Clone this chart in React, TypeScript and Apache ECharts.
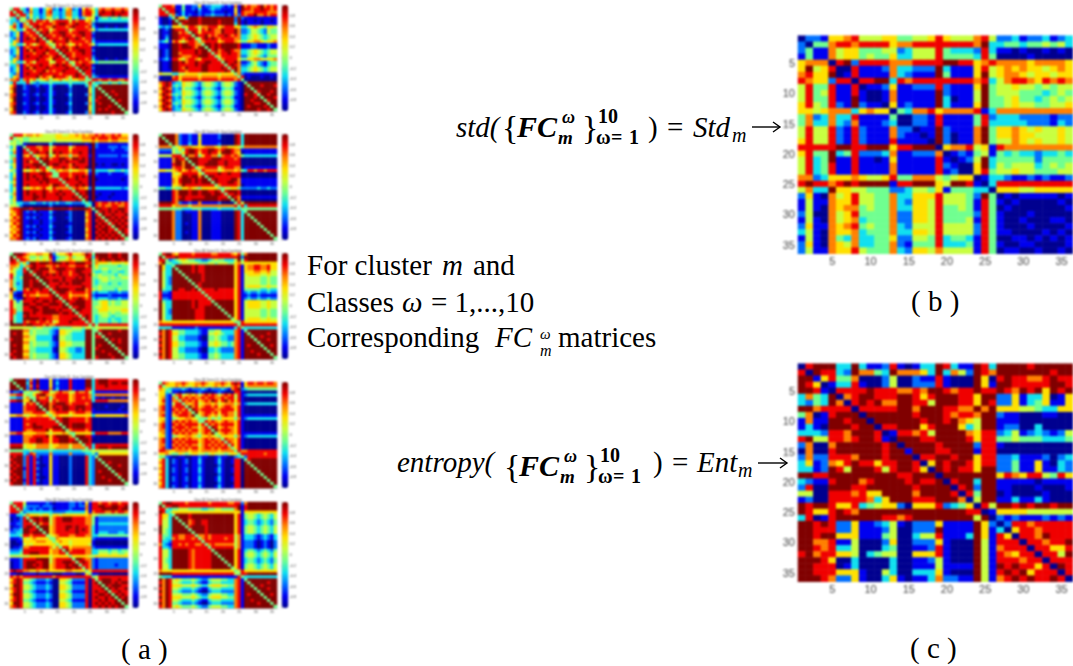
import React, { useEffect, useRef } from "react";
import * as echarts from "echarts";

// Matrix cells are jet-scale levels 0 (dark blue) .. 9 (dark red).
const stdRows = [
"0 2 21 6 67 8 5556 6 44 556 8 6555 7 8 5 2231223123",
"2 0 44 7 88 7 8888 6 77 888 8 8888 7 9 3 3443445453",
"2 4 11 7 56 6 4445 5 23 555 8 4333 2 8 3 1101001010",
"1 4 11 7 56 6 4544 6 33 555 8 4444 3 8 4 0000100000",
"6 7 77 0 89 2 8888 7 77 888 8 9988 6 7 8 7777677776",
"6 9 56 8 00 8 1112 7 33 222 9 3111 6 8 5 6767665676",
"7 8 66 9 01 8 1111 7 32 111 9 4111 6 9 5 6776566566",
"8 7 66 2 88 0 8899 3 87 888 8 8888 7 8 3 5788768787",
"5 8 44 8 11 8 0112 6 11 222 8 2111 6 9 4 5565545455",
"5 8 45 8 11 8 1001 7 11 111 9 2111 5 9 4 5554443454",
"5 8 44 8 11 9 1001 7 11 111 9 3011 5 9 4 4564434545",
"6 8 54 8 21 9 2110 6 12 111 9 3111 6 9 4 4565544556",
"6 6 56 7 77 3 6766 0 43 778 6 7777 8 1 3 7777777777",
"4 7 23 7 33 8 1111 4 00 221 8 1111 4 8 2 3332222122",
"4 7 33 7 32 7 1112 3 00 221 8 1111 4 8 3 3333222132",
"5 8 55 8 21 8 2111 7 22 011 9 2111 7 9 4 6676565565",
"5 8 55 8 21 8 2111 7 21 101 9 2011 7 9 4 6676655565",
"6 8 55 8 21 8 2111 8 11 110 9 2011 7 9 4 5576565565",
"8 8 88 8 99 8 8999 6 88 999 0 6778 5 6 1 8777777777",
"6 8 44 9 34 8 2223 7 11 222 7 0121 4 5 1 4343323343",
"5 8 34 9 11 8 1101 6 11 111 8 1012 5 9 3 4444424444",
"5 8 34 8 11 8 1111 7 11 111 8 2100 6 9 3 5455534545",
"5 8 34 8 11 8 1111 7 11 111 8 1200 6 8 4 5565544455",
"7 7 23 6 66 7 6556 8 44 777 5 4566 0 1 3 3211212112",
"8 9 88 7 89 8 9999 1 88 999 6 5998 1 0 3 8888888888",
"5 7 33 9 66 5 5444 2 23 554 6 1444 3 3 0 6665566666",
"2 6 10 7 56 8 5544 7 33 666 8 5554 2 9 4 0101111101",
"1 5 11 7 66 8 5544 7 32 665 8 5554 1 8 4 1010000010",
"1 5 10 7 67 7 4544 7 33 665 8 4454 1 8 4 0100000001",
"2 5 00 7 56 8 4444 7 22 665 8 4444 2 8 4 1000100000",
"1 5 10 7 56 7 3444 7 22 665 8 4445 1 8 4 1001000110",
"2 6 11 7 67 8 4544 7 32 555 8 5555 2 8 4 1000100001",
"3 5 10 7 66 7 3444 7 33 665 8 5555 2 8 4 1100001010",
"1 5 10 7 43 7 3344 6 22 554 8 3443 1 8 4 0011010101",
"2 6 10 7 65 7 3344 7 21 444 8 3334 1 8 4 1001100001",
"2 5 11 7 66 8 5444 7 32 665 7 5555 1 8 4 0110010010",
];
const entropyRows = [
"08999 339 3112 8 10 133 9 8311 983 9999899999",
"80988 329 7743 9 77 763 9 3752 987 9999999899",
"99168 447 0002 5 00 211 8 1000 960 8988778988",
"98601 338 1002 5 00 222 8 1000 961 9988888998",
"99810 888 8988 8 77 879 9 8788 988 9879896989",
"37439 078 9988 8 99 868 9 9988 699 2261336016",
"32439 708 9897 7 99 885 9 9988 698 2261346116",
"99788 880 8888 8 99 799 9 8877 979 6665543366",
"47018 999 0999 9 99 899 9 8788 799 2110001100",
"17119 989 9099 9 99 989 9 8976 599 1110000000",
"13109 998 9908 8 99 968 9 9963 599 1220030000",
"33328 879 9980 1 88 785 9 9997 688 2351232125",
"89558 878 9981 0 99 988 9 9998 688 4454443334",
"27007 999 9998 9 09 999 8 9999 288 1000000000",
"07008 999 9998 9 91 999 8 8999 188 0000000000",
"27228 887 9998 9 99 088 9 9899 688 2231112023",
"36127 689 8868 8 99 806 9 8998 688 2241161032",
"33129 859 9985 8 99 860 9 8988 699 2241161132",
"99889 999 9999 9 88 999 0 9999 999 6876885486",
"32118 999 7899 9 98 988 9 0899 399 1111101111",
"28009 998 8999 9 99 899 9 9089 299 1100010001",
"55008 887 8669 9 99 799 9 9808 499 0100001000",
"12008 888 8736 9 99 888 9 9970 599 1131131000",
"98998 668 3456 6 20 666 8 2346 085 9989899899",
"98668 987 9999 9 99 999 9 9998 801 6666555555",
"38018 999 9998 8 78 999 9 9999 590 2121112121",
"99898 226 1123 5 10 222 6 1111 962 0288788888",
"99888 226 1112 5 00 222 9 1111 961 3068878888",
"99899 666 1114 5 00 355 8 1113 961 8608879888",
"99778 115 0002 6 00 222 6 1000 951 8880887889",
"99878 335 0003 4 00 112 8 1000 951 7888088668",
"89788 665 0345 5 00 666 8 1000 951 8768808859",
"99986 003 0000 3 00 112 5 1000 951 8887880888",
"99888 013 0000 3 00 111 5 1111 951 9898868098",
"99888 666 1005 3 00 333 6 1000 951 8989688808",
"99987 226 1003 6 10 113 7 2211 951 7898988980",
];
const classSixRows = [
"488431 633136 723136 723168 753787 787787","848832 733137 833237 733178 863898 898898","884883 633237 733237 733178 853988 898988","438452 534235 534235 634235 651344 344344",
"332547 848878 578888 587886 742333 333333","373174 888788 878998 789888 720000 000000","683177 489887 798887 898887 831001 001001","463358 848788 578888 578888 752333 333333",
"236187 884989 788998 788998 820000 000000","236188 788498 878898 878898 810000 000000","327189 879849 888789 889878 820000 000000","367188 889884 698889 788887 831111 111111",
"463358 757887 458787 568788 752333 333333","337187 888988 748898 789888 810000 000000","236189 798889 884989 788998 820000 000000","236188 878897 888498 878898 810000 000000",
"327189 888988 789849 878888 820000 000000","367188 889887 698884 889887 831001 001001","463358 758888 558878 458788 753444 444444","337187 888988 789898 748898 810000 000000",
"236189 798889 888889 884989 820000 000000","236188 878897 878898 888498 810000 000000","327189 888988 888788 889848 820000 000000","367188 889787 698887 589884 832111 111111",
"778378 674567 466756 466774 488788 788778","383338 432333 433333 433334 843344 344344","680021 012011 310001 300003 734999 999999","790021 001001 300000 200000 639499 999999",
"690011 001001 310000 200000 639949 989999","780021 012011 310001 300002 739994 998999","790011 001001 300000 200000 639899 499999","690011 001001 310000 200000 638999 949899",
"780021 012011 310001 300002 739899 994999","790011 001001 300000 200000 639999 899499","690011 001001 310000 200000 639898 999949","780021 012011 310001 300002 739999 989994",
];
const classTwoRows = [
"488871 141122 612233 321217 197877 897878","848881 141121 311232 211116 198878 898878","884880 131110 211121 110116 187778 888777","888472 131211 212232 221217 287889 778788",
"100249 663999 899999 999992 921111 111111","100194 998999 899999 899992 910110 101101","100199 489999 899999 899993 910111 101111","323266 646887 577888 678886 633567 654665",
"012098 884888 587987 798889 722355 432544","011099 787498 688887 798889 722355 432544","012099 888849 889787 889878 733456 543455","013099 878984 589898 788887 733456 543455",
"234178 657887 478888 678887 644667 765667","111099 899887 749989 899999 811122 111211","111099 899987 994989 899999 811122 111211","012099 888889 899489 789987 733456 543455",
"012099 788889 899848 788988 733456 543455","012099 877788 999884 688888 722455 432444","123188 657887 688888 478888 644667 765667","011099 897889 889988 849889 711245 321344",
"011099 888889 899888 884898 722345 321344","011099 879888 899888 898489 733456 543455","011199 887888 899888 889849 733456 543455","655533 556666 566666 566664 721111 111111",
"100078 677777 677777 677777 480100 010010","000088 688888 788888 788887 840000 000000","789823 365543 245543 245542 104999 999999","689834 365543 245543 245542 109499 989998",
"798723 254432 134432 134431 109949 999999","689823 365543 245543 245542 109994 899989","798734 365543 245543 245542 108998 499899","689823 254432 134432 134431 109998 949998",
"798723 365543 245543 245542 109989 994899","689834 365543 245543 245542 109998 899499","798723 254432 134432 134431 109899 998949","689823 365543 245543 245542 109999 899894",
];
const classSevenRows = [
"488867 767655 556655 667676 778787 787866","845544 555555 556666 666677 787888 788777","454544 555555 545555 555566 676777 677666","554410 000000 300000 100001 092111 111111",
"351048 887788 578888 578888 192111 222122","461084 888788 588888 688888 091111 121112","371088 489889 598988 788988 091111 111111","441076 846778 468777 477888 191222 222122",
"471088 884989 788998 799898 091111 111111","371089 788499 888989 888998 091111 111111","461088 899949 899888 798888 090101 100101","361089 889884 688898 789889 091111 111111",
"541065 675786 447677 566776 293333 443343","351089 888998 844888 788887 192111 211112","361089 898898 744888 789898 091111 111111","371089 889899 888489 889888 090111 111101",
"461088 888989 888848 888988 091111 111111","371089 888888 799884 889898 091111 111111","351065 676786 587777 478776 293333 333323","361089 888898 788988 849889 091111 111111",
"471089 898898 889898 884989 091011 101111","361088 899898 888988 898498 090111 011111","461088 898888 888988 889849 091111 111111","453322 332232 323223 322234 308788 787878",
"554200 000000 200000 100003 408787 788778","788999 899999 899999 899999 849988 988998","678912 120111 310001 200007 804898 989898","768911 011011 200000 200006 808498 898889",
"687912 120111 310001 200007 809849 989898","778911 011011 210000 200006 808984 898989","687911 011011 200000 100007 809898 489898","768912 120111 310001 200007 808989 849989",
"677911 011011 200000 200006 809899 884898","768912 120111 310001 200007 808989 898498","687911 011011 200000 100006 809898 989849","778912 120111 310001 200007 808989 898984",
];
const classFourRows = [
"499997 211211 611111 200009 839999 999999","949997 211211 511111 200009 839999 999999","994997 211211 611111 100009 839999 999999","999497 211311 611111 200009 839999 999999",
"777745 677766 667776 577666 547777 777777","222254 648998 788998 789987 711111 111111","111154 468998 688988 699987 601111 111111","555588 849778 468877 478878 743333 333333",
"111179 884999 888899 988887 800000 000000","111179 979499 888999 889888 800000 000000","111189 979949 889999 889888 800000 000000","111178 879984 678888 578887 701111 111111",
"665567 867877 487777 567776 743887 887888","111165 688888 648888 988988 800000 000000","111166 799899 794998 888888 800000 000000","111176 899989 899489 888899 711111 111111",
"111176 899989 899949 888998 711111 111111","111166 798888 888884 788888 701111 111111","443354 466765 466666 445566 422222 322322","000087 999899 899889 848999 800000 000000",
"000087 999899 899989 984889 800000 000000","000087 898888 889999 888498 711111 111111","000087 998899 999999 899949 700000 000000","999987 211211 711111 200004 859999 999999",
"888867 777677 777777 777778 483888 888888","444444 433344 433333 433334 344444 444444","999972 201111 700011 100009 834999 999999","999972 200011 700011 100009 839499 999999",
"999972 200011 700011 100009 839949 999999","999972 200011 700011 100009 839994 999999","999972 201011 700011 100009 839999 499999","999972 200011 700011 100009 839999 949999",
"999972 200011 700011 100009 839999 994999","999972 201011 700011 100009 839999 999499","999972 200011 700011 100009 839999 999949","999972 200011 700011 100009 839999 999994",
];
const classOneRows = [
"499987 667766 925667 866679 849999 899899","948876 445455 813445 745558 838999 899899","984887 556565 714556 765567 947989 989989","887463 998999 899989 889998 847666 566656",
"776347 898887 787888 778887 946444 444344","754384 998999 789998 889998 845455 444544","653389 489988 778988 789988 843344 344334","853399 849989 898988 788998 954544 443544",
"843499 994998 888898 889898 844555 454455","743399 898499 899898 899998 843455 444444","742399 899949 888989 899988 843444 344344","743399 899994 889888 888898 844544 444444",
"963387 988988 489999 889997 854544 443544","721188 887888 948998 788887 832333 222322","610078 776777 894888 677776 821111 211111","621198 889888 899488 788987 832333 222322",
"852488 898899 898849 889998 844566 454455","854499 889988 999894 899998 844566 454455","854488 998899 888899 488998 845566 555555","874488 899899 998988 849988 844666 555566",
"873399 898899 999899 894888 844555 454455","843389 888888 877888 888489 843455 434444","843399 999898 877888 899849 843444 343344","943387 887887 856888 988884 843444 344344",
"999989 988878 778888 888888 484888 888888","555555 545544 433444 455545 545555 555555","999977 454444 321665 544439 944899 999899","989966 454444 321665 433339 949499 899999",
"999977 553333 310554 433339 948849 999999","899966 553333 310554 433339 949994 989899","999977 454444 321665 544449 949999 499899","989966 454444 321665 544449 949899 949999",
"999966 443333 310554 332239 948999 994899","989977 443333 310554 332239 949989 999499","899966 454444 321665 433339 949999 899949","989977 454444 321665 433339 948999 989994",
];
const classEightRows = [
"489976 888878 888877 888876 847999 999999","948889 888888 888888 888888 929999 999999","884234 565443 322345 443335 948999 999999","794433 455555 444554 555446 756666 666666",
"963349 999989 889999 999996 816778 877866","963394 999989 889999 999996 816778 877866","953399 499989 889999 999996 816667 766755","953399 949999 989999 999996 815666 655655",
"953299 994999 989999 999996 815555 544544","953299 999499 989999 999996 815555 544544","953299 999949 899999 999996 815555 544544","953399 999994 899999 999996 815666 655655",
"943399 889989 488889 888886 814444 433433","822188 888888 848888 888886 812322 322322","811188 888888 884888 888886 811211 211111","822188 888888 888488 888886 812322 322322",
"943399 999989 888849 999996 815666 655655","953399 999989 888894 999996 815666 655655","953399 999989 889999 499996 815666 655655","953299 999998 889999 949996 815555 544544",
"953299 999998 889999 994996 815555 544544","953399 999998 889999 999496 815555 544544","953399 999998 889999 999946 815666 655655","766666 666666 666666 666664 486666 666666",
"888888 888888 888888 888888 488888 888888","333311 111112 111111 111113 843333 333333","979855 443333 211445 533337 814999 999999","879866 443333 211556 543337 819499 999899",
"979855 332222 100445 433227 819949 989999","879855 332222 100445 433227 819994 999899","979866 443333 211556 544347 819999 499999","879866 443333 211556 544347 819899 949989",
"979855 332222 100334 322227 819999 994999","879855 332222 100334 322227 819989 999499","979855 443333 211445 433337 819999 899949","879855 443333 211445 433337 819999 999994",
];
const classTenRows = [
"499992 719111 612111 811119 938999 888888","949993 819111 613111 811119 938999 899899","994992 718111 612111 811119 938889 888888","999492 819111 713111 811118 838888 888888",
"122145 455788 557877 558778 531111 111111","778854 468997 678888 678888 737777 777777","332257 448778 478888 678878 731010 010010","889966 949888 587888 678888 838888 777777",
"111158 784989 789998 788887 800000 000000","111178 889499 798899 889998 800001 000010","111178 889949 789899 889898 810000 000100","111177 788884 678888 678887 711111 111111",
"667755 667766 467666 566666 636666 666667","111187 888888 748899 888887 800000 000000","111188 888888 884899 888887 800000 000000","111187 898888 888499 899998 800000 000000",
"111188 899988 899949 899998 800000 000000","111187 788889 688894 788887 800000 000000","778866 667776 566676 446666 638888 777788","111177 788889 689999 749998 810000 000000",
"111177 889988 688999 884999 800000 000000","111177 889988 688999 899499 800000 000000","888856 657777 566777 577748 838888 888888","999956 667777 567777 577774 838999 899999",
"444433 433333 433333 333344 455555 555555","888832 872222 722222 722223 342666 666666","989928 182011 611000 200008 324999 999999","899928 181011 611000 200008 329499 999999",
"989928 182011 611000 200008 329949 899999","898928 181001 611000 200008 329994 999899","989918 182011 611000 200008 329999 499999","899928 181011 611000 200008 329899 949999",
"989928 182011 611000 200008 329999 994899","898928 181001 611000 200008 329989 999499","989918 182011 611000 200008 329999 899949","899928 181011 611000 200008 329999 999994",
];
const classNineRows = [
"487667 787667 787667 787689 816887 887887","846667 676567 676567 676578 716777 777777","764322 232122 232122 232178 923444 444444","663411 010001 210001 210008 810000 000000",
"662147 856767 578787 578785 812333 333333","672174 878787 787887 787885 810000 000000","682177 487878 678798 689786 810000 000000","672158 847678 567767 567775 712333 333333",
"782178 884978 678878 678876 810000 000000","782187 878498 788887 788886 810000 000000","772178 788749 678878 688775 810000 000000","782167 888794 578767 578775 811111 111111",
"662145 667765 444645 466664 712333 333333","672178 787877 448787 678776 810000 000000","782187 878888 684878 788886 810000 000000","782178 887877 578498 678776 810000 000000",
"772187 878788 678849 788876 810000 000000","672178 787877 578794 678776 811111 111111","662145 667765 466765 466664 712333 333333","782178 787877 678787 748776 810000 000000",
"782187 878888 678878 784876 810000 000000","772178 787877 578787 878486 810000 000000","782187 878788 678878 788746 810000 000000","887667 777677 677777 677774 877888 888888",
"667544 654566 554565 554566 488888 887888","442100 110011 211001 211002 342888 888888","683021 012011 310001 310018 804899 999999","783021 012011 310001 310018 809499 999999",
"683011 011011 210000 210008 809949 999999","783021 012011 310001 310018 809994 999999","683021 012011 310001 310018 809999 499999","783011 011011 210000 210008 809999 949999",
"683021 012011 310001 310018 809999 994999","783021 012011 310001 310018 809999 999499","683011 011011 210000 210008 809999 999949","783021 012011 310001 310018 809999 999994",
];
const classThreeRows = [
"488851 111112 101111 221216 188788 788788","848842 222122 211111 221227 188998 899889","884832 121211 201111 211117 188899 999899","888423 333333 322223 333336 178887 787887",
"113347 666566 466566 666666 755444 444444","010284 899899 578899 988887 741222 222222","011289 489899 578899 988887 741222 222222","112288 849788 578888 888887 741333 333333",
"011289 984999 678889 989888 731222 222222","122399 889499 678889 889898 731222 222222","223399 899949 678888 889888 731333 222332","333488 788884 567888 778887 733444 444444",
"111265 676666 447666 666666 621111 111111","001166 667776 646766 566666 610000 000000","000156 566666 664666 566666 510000 000000","011277 888888 757488 677777 721111 111111",
"222388 888888 677849 788887 733444 344344","333488 999888 677884 888887 733555 455445","555555 666666 566666 466666 556666 666666","111288 889999 578888 849987 721222 222222",
"011289 998899 578899 984898 721222 222222","011289 989899 678889 899488 721222 221222","011289 998899 678889 989848 721222 222222","898877 667667 666667 766664 688888 888888",
"110011 110111 100011 110016 411000 000000","878788 888888 878888 888888 845888 888888","689855 432223 200665 422228 084899 988988","789844 321112 100554 311118 089499 989899",
"699855 432223 200665 422228 088949 899988","789855 432223 200665 422228 088894 989889","689844 321112 100554 311118 089889 488988","799855 432223 200665 422228 088998 949898",
"689855 432223 200665 422228 089889 894989","789844 321112 100554 311118 088989 889499","699855 432223 200665 422228 089898 989949","789855 432223 200665 422228 088989 898994",
];
const classFiveRows = [
"489988 887888 888788 888778 827999 999999","948899 888888 888888 888888 918999 999999","884344 555444 433445 544447 918999 999999","983466 666666 666666 666666 616666 666666",
"866349 999899 999999 999996 814554 345435","865394 999899 999999 999996 814554 345435","855399 499789 988999 999996 813443 234324","855399 949789 988999 999996 813443 234324",
"955399 994899 998999 999996 814554 345435","954399 999499 998999 999996 814554 345435","954399 999949 998999 999996 814554 345435","844388 778884 778788 888885 713332 123213",
"843378 778878 478788 887885 713332 123213","833288 888888 848888 888885 712221 012102","732188 787887 784787 777775 712221 012102","833288 888888 888488 888885 712221 012102",
"855399 999878 888849 999996 813443 234324","855399 999878 888894 999996 814554 345435","855399 999878 888899 499996 814554 345435","854399 999878 888899 949996 813443 234324",
"854399 999878 888899 994996 813443 234324","855399 999878 888899 999496 814554 345435","855399 999878 888899 999946 814554 345435","766666 666666 666666 666664 586666 666666",
"999988 888888 888888 888885 488999 999999","433311 111111 111111 111111 843333 333333","979856 544454 322455 544337 814999 999999","879855 433343 211344 433337 819499 999899",
"979866 655565 433566 655447 819949 989999","879855 433343 211344 433337 819994 999899","979844 322232 100233 322227 819999 499999","879855 544454 322455 544337 819899 949989",
"979866 655565 433566 655447 819999 994999","879855 433343 211344 433337 819989 999499","979844 322232 100233 322227 819999 899949","879856 544454 322455 544337 819999 999994",
];

const cellLabels = Array.from({ length: 36 }, (_, i) => String(i + 1));
const jetLevels = ["#00008f", "#0000f0", "#0070ff", "#10e0f0", "#70ff90", "#c8ff40", "#ffe000", "#ff8000", "#f00000", "#800000"];
const colorbarTicks = [0.8, 0.6, 0.4, 0.2, 0, -0.2, -0.4, -0.6, -0.8];

const smallPanels = [
  { title: "Class [6] Cluster [1] : Scan Correlation", rows: classSixRows, left: 10, top: 8, bar: 132.5 },
  { title: "Class [2] Cluster [1] : Scan Correlation", rows: classTwoRows, left: 159, top: 5, bar: 282 },
  { title: "Class [7] Cluster [1] : Scan Correlation", rows: classSevenRows, left: 10, top: 134, bar: 132.5 },
  { title: "Class [4] Cluster [1] : Scan Correlation", rows: classFourRows, left: 159, top: 134, bar: 282 },
  { title: "Class [1] Cluster [1] : Scan Correlation", rows: classOneRows, left: 10, top: 253, bar: 132.5 },
  { title: "Class [8] Cluster [1] : Scan Correlation", rows: classEightRows, left: 159, top: 253, bar: 282 },
  { title: "Class [10] Cluster [1] : Scan Correlation", rows: classTenRows, left: 10, top: 379, bar: 132.5 },
  { title: "Class [9] Cluster [1] : Scan Correlation", rows: classNineRows, left: 159, top: 382, bar: 282 },
  { title: "Class [3] Cluster [1] : Scan Correlation", rows: classThreeRows, left: 10, top: 502, bar: 132.5 },
  { title: "Class [5] Cluster [1] : Scan Correlation", rows: classFiveRows, left: 159, top: 502, bar: 282 },
];
const largePanels = [
  { rows: stdRows, left: 798, top: 35.7, width: 276.5, height: 218 },
  { rows: entropyRows, left: 798, top: 363.7, width: 276.5, height: 218 },
];

const cells = (rows: string[]) => {
  const out: number[][] = [];
  rows.forEach((r, y) => r.replace(/ /g, "").split("").forEach((d, x) => out.push([x, y, Number(d)])));
  return out;
};

const txt = (text: string, x: number, base: number, size: number, opt: any = {}) => ({
  type: "text",
  silent: true,
  style: {
    text,
    x,
    y: base - size * 0.29,
    fill: opt.fill || "#000",
    textAlign: opt.align || "left",
    textVerticalAlign: "middle",
    font: `${opt.style || "normal"} ${opt.weight || "normal"} ${size}px ${opt.family || "'Liberation Serif'"}`,
  },
});
const arrow = (x1: number, x2: number, y: number) => [
  { type: "line", silent: true, shape: { x1, y1: y, x2, y2: y }, style: { stroke: "#000", lineWidth: 1.4 } },
  { type: "polyline", silent: true, shape: { points: [[x2 - 7, y - 5], [x2, y], [x2 - 7, y + 5]] }, style: { stroke: "#000", lineWidth: 1.4, fill: "none" } },
];
const it = { style: "italic" };
const mathFC = { style: "italic", weight: "bold" };
const mathNum = { weight: "bold" };

const formula = (fcX: number, base: number) => [
  txt("{", fcX - 15, base + 2, 34, {}),
  txt("FC", fcX, base, 30, mathFC),
  txt("ω", fcX + 45, base - 13, 18, mathFC),
  txt("m", fcX + 41, base + 8, 19, mathFC),
  txt("}", fcX + 65, base + 2, 34, {}),
  txt("10", fcX + 81, base - 13, 20, mathNum),
  txt("ω", fcX + 79, base + 8, 20, mathNum),
  txt("=", fcX + 94, base + 8, 20, mathNum),
  txt("1", fcX + 112, base + 8, 20, mathNum),
];

const textGraphics: any[] = [
  txt("std(", 456, 135, 29, it),
  ...formula(517, 135),
  txt(")", 648, 135, 29),
  txt("=", 667, 135, 29),
  txt("Std", 693, 135, 29, it),
  txt("m", 732, 141, 20, it),
  ...arrow(752, 780, 127),

  txt("For cluster", 307, 273, 29),
  txt("m", 442, 273, 29, it),
  txt("and", 473, 273, 29),
  txt("Classes", 307, 310, 29),
  txt("ω", 402, 310, 29, it),
  txt("= 1,...,10", 431, 310, 29),
  txt("Corresponding", 307, 345, 29),
  txt("FC", 495, 345, 29, it),
  txt("ω", 540, 338, 15, it),
  txt("m", 540, 355, 16, it),
  txt("matrices", 558, 345, 29),

  txt("entropy(", 397, 470, 29, it),
  ...formula(519, 474),
  txt(")", 653, 470, 29),
  txt("=", 672, 470, 29),
  txt("Ent", 697, 470, 29, it),
  txt("m", 738, 476, 20, it),
  ...arrow(758, 787, 463),

  txt("( a )", 121, 657, 29),
  txt("( b )", 911, 309, 29),
  txt("( c )", 910, 656, 29),
];
const titleGraphics: any[] = smallPanels.map((p) =>
  txt(p.title, p.left + 59, p.top - 2, 2.8, { align: "center", family: "'Liberation Sans'", fill: "#333" })
);

const showFive = (_: number, v: string) => Number(v) % 5 === 0;

function buildOption() {
  const grid: any[] = [];
  const xAxis: any[] = [];
  const yAxis: any[] = [];
  const series: any[] = [];
  const visualMap: any[] = [];

  const addMatrix = (rows: string[], left: number, top: number, width: number, height: number, fs: number, tick: number, xm: number, ym: number, bar?: number) => {
    const i = grid.length;
    grid.push({ left, top, width, height, containLabel: false });
    const axisCommon = {
      type: "category",
      data: cellLabels,
      gridIndex: i,
      axisLine: { show: true, lineStyle: { color: "#666", width: 0.6 } },
      axisTick: { show: true, inside: true, alignWithLabel: true, interval: showFive, length: tick, lineStyle: { color: "#666", width: 0.4 } },
      splitLine: { show: false },
    };
    const label = { show: true, interval: showFive, fontSize: fs, color: "#444", fontFamily: "'Liberation Sans'" };
    xAxis.push({ ...axisCommon, axisLabel: { ...label, margin: xm } });
    yAxis.push({ ...axisCommon, inverse: true, axisLabel: { ...label, margin: ym } });
    const seriesIndex = series.length;
    series.push({ type: "heatmap", xAxisIndex: i, yAxisIndex: i, data: cells(rows), itemStyle: { borderWidth: 0 }, emphasis: { disabled: true } });
    visualMap.push({
      type: "continuous",
      min: 0,
      max: 9,
      seriesIndex,
      calculable: false,
      show: bar !== undefined,
      left: bar,
      top,
      padding: 0,
      itemWidth: 6.3,
      itemHeight: height,
      text: ["", ""],
      textGap: 0,
      inRange: { color: jetLevels },
    });
  };

  largePanels.forEach((p) => addMatrix(p.rows, p.left, p.top, p.width, p.height, 11, 2, 2, 3));
  smallPanels.forEach((p) => addMatrix(p.rows, p.left, p.top, 118, 106, 3.6, 1, 1.6, 1.6, p.bar));

  smallPanels.forEach((p) => {
    const i = grid.length;
    grid.push({ left: p.bar, top: p.top, width: 6.3, height: 106 });
    xAxis.push({ type: "value", gridIndex: i, show: false, min: 0, max: 1 });
    yAxis.push({
      type: "value",
      gridIndex: i,
      min: -1,
      max: 1,
      interval: 0.2,
      position: "right",
      axisLine: { show: true, lineStyle: { color: "#666", width: 0.4 } },
      axisTick: { show: true, inside: true, length: 1, lineStyle: { color: "#666", width: 0.3 } },
      splitLine: { show: false },
      axisLabel: {
        fontSize: 3.6,
        margin: 1.5,
        color: "#444",
        fontFamily: "'Liberation Sans'",
        formatter: (v: number) => {
          const r = Math.round(v * 10) / 10;
          return colorbarTicks.includes(r) ? String(r) : "";
        },
      },
    });
  });

  return { animation: false, backgroundColor: "#fff", grid, xAxis, yAxis, series, visualMap, graphic: { elements: titleGraphics } };
}

const layer = { position: "absolute", left: 0, top: 0, width: 1073, height: 666, overflow: "hidden" } as const;

export default function App() {
  const matrixRef = useRef<HTMLDivElement>(null);
  const textRef = useRef<HTMLDivElement>(null);
  useEffect(() => {
    const matrices = echarts.init(matrixRef.current!, undefined, { renderer: "svg" });
    matrices.setOption(buildOption() as any);
    const words = echarts.init(textRef.current!, undefined, { renderer: "svg" });
    words.setOption({ animation: false, graphic: { elements: textGraphics } } as any);
    return () => {
      matrices.dispose();
      words.dispose();
    };
  }, []);
  return (
    <>
      <div ref={matrixRef} style={{ ...layer, filter: "blur(0.8px)" }} />
      <div ref={textRef} style={{ ...layer, pointerEvents: "none" }} />
    </>
  );
}
